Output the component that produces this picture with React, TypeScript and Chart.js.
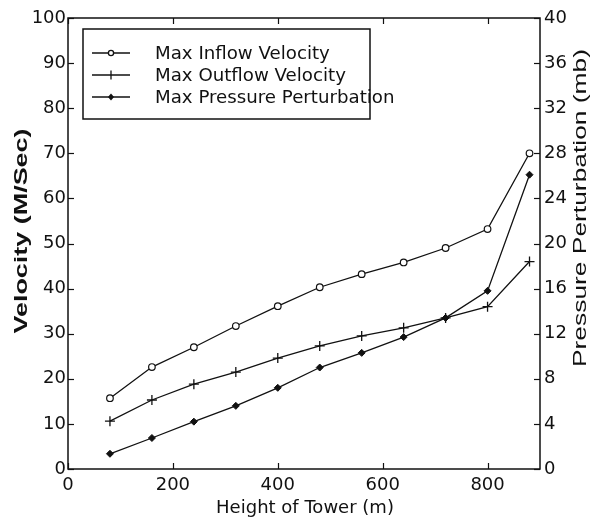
import React, { useEffect, useRef } from "react";
import { Chart, registerables } from "chart.js";

Chart.register(...registerables);

const heights = [80, 160, 240, 320, 400, 480, 560, 640, 720, 800, 880];
const inflowVelocity = [15.7, 22.6, 27, 31.7, 36.1, 40.3, 43.2, 45.8, 49, 53.2, 70];
const outflowVelocity = [10.6, 15.3, 18.8, 21.5, 24.6, 27.3, 29.5, 31.3, 33.5, 36, 46];
const pressurePerturbation = [1.35, 2.75, 4.2, 5.6, 7.2, 9.0, 10.3, 11.7, 13.4, 15.8, 26.1];
const seriesLabels = ["Max Inflow Velocity", "Max Outflow Velocity", "Max Pressure Perturbation"];
const xTitle = "Height of Tower (m)";
const yLeftTitle = "Velocity (M/Sec)";
const yRightTitle = "Pressure Perturbation (mb)";

const FONT = "'DejaVu Sans', 'Liberation Sans', sans-serif";
const TITLE_FONT = "'Liberation Sans', Arial, sans-serif";
const INK = "#111";

function fitFont(ctx: CanvasRenderingContext2D, text: string, target: number, weight: string) {
  ctx.font = `${weight} 20px ${FONT}`;
  const w = ctx.measureText(text).width;
  const size = (20 * target) / w;
  ctx.font = `${weight} ${size.toFixed(2)}px ${FONT}`;
}

function stretchedText(ctx: CanvasRenderingContext2D, text: string, cx: number, cy: number, target: number, size: number, weight: string) {
  ctx.save();
  ctx.translate(cx, cy);
  ctx.rotate(-Math.PI / 2);
  ctx.font = `${weight} ${size}px ${TITLE_FONT}`;
  const w = ctx.measureText(text).width;
  ctx.scale(target / w, 1);
  ctx.textAlign = "center";
  ctx.textBaseline = "middle";
  ctx.fillText(text, 0, 0);
  ctx.restore();
}

const frameAndTicks = {
  id: "frameAndTicks",
  afterDraw(chart: any) {
    const { ctx, chartArea: a, scales } = chart;
    ctx.save();
    ctx.strokeStyle = INK;
    ctx.lineWidth = 1.5;
    ctx.strokeRect(a.left, a.top, a.right - a.left, a.bottom - a.top);
    ctx.lineWidth = 1.2;
    const L = 6;
    const x = scales.x;
    x.ticks.forEach((t: any) => {
      const px = Math.round(x.getPixelForValue(t.value)) + 0.5;
      ctx.beginPath();
      ctx.moveTo(px, a.bottom);
      ctx.lineTo(px, a.bottom - L);
      ctx.moveTo(px, a.top);
      ctx.lineTo(px, a.top + L);
      ctx.stroke();
    });
    const y = scales.y;
    y.ticks.forEach((t: any) => {
      const py = Math.round(y.getPixelForValue(t.value)) + 0.5;
      ctx.beginPath();
      ctx.moveTo(a.left, py);
      ctx.lineTo(a.left + L, py);
      ctx.stroke();
    });
    const y2 = scales.y2;
    y2.ticks.forEach((t: any) => {
      const py = Math.round(y2.getPixelForValue(t.value)) + 0.5;
      ctx.beginPath();
      ctx.moveTo(a.right, py);
      ctx.lineTo(a.right - L, py);
      ctx.stroke();
    });

    // axis titles
    ctx.fillStyle = INK;
    ctx.textAlign = "center";
    ctx.textBaseline = "middle";
    fitFont(ctx, xTitle, 178, "normal");
    ctx.fillText(xTitle, 305, 508);
    stretchedText(ctx, yLeftTitle, 22, 231, 205, 19, "bold");
    stretchedText(ctx, yRightTitle, 581, 208, 318, 19, "normal");

    // legend box
    const bx = 83, by = 29, bw = 287, bh = 90;
    ctx.fillStyle = "#fff";
    ctx.fillRect(bx, by, bw, bh);
    ctx.strokeStyle = INK;
    ctx.lineWidth = 1.5;
    ctx.strokeRect(bx, by, bw, bh);
    fitFont(ctx, seriesLabels[0], 175, "normal");
    ctx.textBaseline = "middle";
    ctx.textAlign = "left";
    chart.data.datasets.forEach((ds: any, i: number) => {
      const ly = 53 + i * 22;
      ctx.strokeStyle = INK;
      ctx.lineWidth = 1.3;
      ctx.beginPath();
      ctx.moveTo(92, ly);
      ctx.lineTo(130, ly);
      ctx.stroke();
      ctx.fillStyle = INK;
      ctx.fillText(ds.label, 155, ly + 1);
      ctx.save();
      ctx.beginPath();
      const cx = 111;
      if (ds.pointStyle === "circle") {
        ctx.arc(cx, ly, 2.6, 0, Math.PI * 2);
        ctx.fillStyle = "#fff";
        ctx.fill();
        ctx.stroke();
      } else if (ds.pointStyle === "cross") {
        ctx.moveTo(cx, ly - 4.5);
        ctx.lineTo(cx, ly + 4.5);
        ctx.stroke();
      } else {
        ctx.moveTo(cx, ly - 3.5);
        ctx.lineTo(cx + 3, ly);
        ctx.lineTo(cx, ly + 3.5);
        ctx.lineTo(cx - 3, ly);
        ctx.closePath();
        ctx.fillStyle = INK;
        ctx.fill();
      }
      ctx.restore();
    });
    ctx.restore();
  },
};

export default function App() {
  const ref = useRef<HTMLCanvasElement | null>(null);
  useEffect(() => {
    const canvas = ref.current!;
    const tickFont = { size: 18, family: FONT };
    const chart = new Chart(canvas, {
      type: "line",
      data: {
        labels: heights,
        datasets: [
          {
            label: seriesLabels[0],
            data: heights.map((h, i) => ({ x: h, y: inflowVelocity[i] })),
            yAxisID: "y",
            borderColor: INK,
            borderWidth: 1.3,
            pointStyle: "circle",
            pointRadius: 3.3,
            pointBackgroundColor: "#fff",
            pointBorderColor: INK,
            pointBorderWidth: 1.2,
          },
          {
            label: seriesLabels[1],
            data: heights.map((h, i) => ({ x: h, y: outflowVelocity[i] })),
            yAxisID: "y",
            borderColor: INK,
            borderWidth: 1.3,
            pointStyle: "cross",
            pointRadius: 5,
            pointBorderColor: INK,
            pointBorderWidth: 1.3,
          },
          {
            label: seriesLabels[2],
            data: heights.map((h, i) => ({ x: h, y: pressurePerturbation[i] })),
            yAxisID: "y2",
            borderColor: INK,
            borderWidth: 1.3,
            pointStyle: "rectRot",
            pointRadius: 3.5,
            pointBackgroundColor: INK,
            pointBorderColor: INK,
            pointBorderWidth: 1,
          },
        ],
      },
      options: {
        animation: false,
        responsive: false,
        maintainAspectRatio: false,
        layout: { padding: { top: 18, left: 0, right: 0, bottom: 0 } },
        plugins: { legend: { display: false }, tooltip: { enabled: false } },
        scales: {
          x: {
            type: "linear",
            min: 0,
            max: 900,
            grid: { display: false, drawTicks: false },
            border: { display: false },
            ticks: { stepSize: 200, color: INK, font: tickFont, padding: 6 },
            afterBuildTicks: (s: any) => { s.ticks = s.ticks.filter((t: any) => t.value <= 800); },
            afterFit: (s: any) => { s.height = 50; },
          },
          y: {
            position: "left",
            min: 0,
            max: 100,
            grid: { display: false, drawTicks: false },
            border: { display: false },
            ticks: { stepSize: 10, color: INK, font: tickFont, padding: 2 },
            afterFit: (s: any) => { s.width = 68; },
          },
          y2: {
            position: "right",
            min: 0,
            max: 40,
            grid: { display: false, drawTicks: false },
            border: { display: false },
            ticks: { stepSize: 4, color: INK, font: tickFont, padding: 4 },
            afterFit: (s: any) => { s.width = 55; },
          },
        },
      },
      plugins: [frameAndTicks],
    });
    return () => chart.destroy();
  }, []);
  return (
    <div style={{ position: "fixed", left: 0, top: 0, width: 595, height: 519, background: "#fff" }}>
      <canvas ref={ref} width={595} height={519} style={{ width: 595, height: 519 }} />
    </div>
  );
}
